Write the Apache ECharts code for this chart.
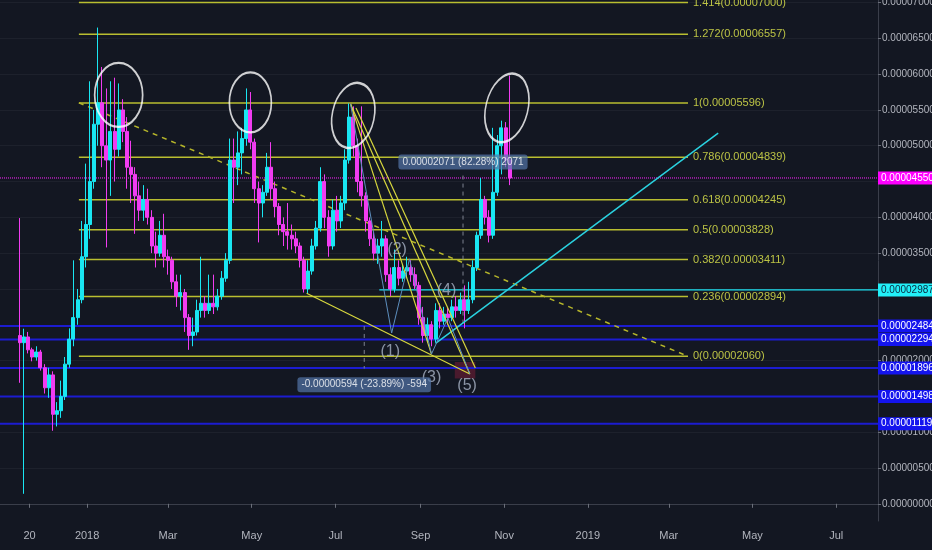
<!DOCTYPE html>
<html><head><meta charset="utf-8">
<script src="https://cdn.jsdelivr.net/npm/echarts@6/dist/echarts.min.js"></script>
<style>html,body{margin:0;padding:0;background:#131722;}#c{width:932px;height:550px;}</style>
</head><body><div id="c"></div><script>
// ---------- DATA (prices in satoshi, 1e-8) ----------
const firstCandle = '2017-11-13';
const candleStepDays = 3;
const openP  = [2350,2250,2330,2150,2050,2120,1900,1620,1800,1250,1300,1500,1950,2300,2600,2850,3450,3900,4500,5300,5600,5000,4800,5200,4950,5500,5200,4700,4600,4300,4100,4250,4000,3600,3500,3750,3450,3400,3100,2900,2950,2600,2350,2400,2700,2800,2700,2800,2750,2900,3150,3400,4800,4700,4900,5100,5500,5050,4400,4200,4350,4700,4400,4150,3900,3800,3750,3700,3600,3400,3000,3250,3600,3850,4500,4000,3600,4100,3950,4200,4800,5400,5000,4500,4300,3950,3700,3500,3600,3700,3200,3000,3300,3150,3250,3300,3200,3050,2600,2350,2500,2300,2700,2550,2650,2600,2750,2700,2850,2700,2850,3300,3750,4250,4000,3750,4350,5000,5250,4800];
const closeP = [2250,2330,2150,2050,2120,1900,1620,1800,1250,1300,1500,1950,2300,2600,2850,3450,3900,4500,5300,5600,5000,4800,5200,4950,5500,5200,4700,4600,4300,4100,4250,4000,3600,3500,3750,3450,3400,3100,2900,2950,2600,2350,2400,2700,2800,2700,2800,2750,2900,3150,3400,4800,4700,4900,5100,5500,5050,4400,4200,4350,4700,4400,4150,3900,3800,3750,3700,3600,3400,3000,3250,3600,3850,4500,4000,3600,4100,3950,4200,4800,5400,5000,4500,4300,3950,3700,3500,3600,3700,3200,3000,3300,3150,3250,3300,3200,3050,2600,2350,2500,2300,2700,2550,2650,2600,2750,2700,2850,2700,2850,3300,3750,4250,4000,3750,4350,5000,5250,4800,4550];
const highP  = [3990,2445,2400,2180,2200,2150,1950,1900,1850,1420,1720,2050,2450,3400,3000,3950,4750,5900,5500,6650,6100,5800,5900,5950,5870,5650,5400,5070,4700,4500,4450,4400,4100,3800,3950,4050,3550,3450,3200,3200,3000,2650,2600,2850,3450,2900,3200,3200,3000,3250,3500,5100,5100,5200,5250,5800,5750,5100,4500,4450,4900,5050,4500,4200,4000,4200,3900,3800,3650,3450,3400,3700,3950,4700,4600,4100,4250,4300,4300,4950,5590,5550,5100,5550,4350,4000,3800,3700,3950,3750,3300,3550,3400,3350,3450,3400,3300,3100,2750,2600,2550,2800,2800,2750,2750,2850,2900,2950,3050,3100,3400,3800,4550,4300,4100,5250,5150,5350,5330,5980];
const lowP   = [1690,140,2100,1990,2000,1860,1540,1480,1020,1080,1200,1450,1900,2200,2500,2800,3300,3700,4400,5000,4700,3580,4300,4500,4850,5050,4400,4200,3770,3950,3950,3900,3500,3300,3450,3300,3200,3000,2750,2700,2400,2150,2200,2350,2600,2600,2650,2650,2700,2850,3100,3350,4200,4450,4600,5000,4950,4200,3650,4000,4300,4250,4000,3750,3600,3550,3550,3500,3300,2950,2930,3200,3550,3800,3850,3450,3550,3800,3850,4100,4750,4850,4350,4150,3800,3600,3400,3350,3450,3100,2900,2950,3050,3100,3150,3100,3000,2500,2250,2250,2200,2250,2450,2500,2500,2550,2600,2650,2450,2650,2800,3250,3700,3900,3650,3700,4300,4600,4700,4450];

const xTickDates  = ['2017-11-20','2018-01-01','2018-03-01','2018-05-01','2018-07-01','2018-09-01','2018-11-01','2019-01-01','2019-03-01','2019-05-01','2019-07-01'];
const xTickLabels = ['20','2018','Mar','May','Jul','Sep','Nov','2019','Mar','May','Jul'];
const yTicks = [0,500,1000,1500,2000,2500,3000,3500,4000,4500,5000,5500,6000,6500,7000];

const fibLevels = ['1.414','1.272','1','0.786','0.618','0.5','0.382','0.236','0'];
const fibPrices = [7000,6557,5596,4839,4245,3828,3411,2894,2060];
const fibRange  = ['2017-12-26','2019-03-15'];

const blueLevels = [2484,2294,1896,1498,1119];
const cyanLevel = 2987, cyanLevelStart = '2018-08-02';
const lastPrice = 4550;

const dashedTrend = [['2017-12-26',5600],['2019-03-15',2060]];
const cyanTrend   = [['2018-09-12',2241],['2019-04-06',5176]];
const wedgeLines  = [
  [['2018-06-10',2939],['2018-10-07',1812]],
  [['2018-07-12',5584],['2018-09-09',2091]],
  [['2018-07-12',5584],['2018-10-07',1812]],
  [['2018-07-16',5527],['2018-10-11',1896]]
];
const wavePath = [['2018-07-12',5584],['2018-08-11',2385],['2018-08-24',3420],['2018-09-09',2091],['2018-09-21',2594],['2018-10-07',1812]];
const waveNames = ['(1)','(2)','(3)','(4)','(5)'];
const waveLabelPos = [['2018-08-10',2120],['2018-08-15',3543],['2018-09-09',1756],['2018-09-20',2972],['2018-10-05',1644]];

const circleCenters = [['2018-01-24',5709],['2018-04-30',5605],['2018-07-14',5423],['2018-11-03',5528]];

const measureUp   = {date:'2018-10-02', from:2517, to:4588, labelAt:4774, change:2071, pct:'82.28'};
const measureDown = {date:'2018-07-22', from:2484, to:1890, labelAt:1663, change:-594, pct:'-23.89'};
const redBox = [['2018-09-26',1980],['2018-10-11',1750]];

// ---------- helpers ----------
const DAY = 86400000;
const T = s => new Date(s + 'T00:00:00Z').getTime();
const fmt = v => (v < 0 ? '-' : '') + '0.' + String(Math.abs(v)).padStart(8,'0');
const P = p => [T(p[0]), p[1]];
const FONT = "'Liberation Sans',Arial,sans-serif";
const X_MIN = T('2017-10-29') + 12*3600000, X_MAX = T('2019-07-31') + 12*3600000;

const t0 = T(firstCandle);
const candles = openP.map((o,i) => [t0 + i*candleStepDays*DAY, o, closeP[i], lowP[i], highP[i]]);

const UP = '#19e6f2', DOWN = '#f13cf1';
const FIB = '#b9be30';
const axisBox = {position:'end', distance:0, padding:[2,2,1,3], fontSize:10, fontFamily:FONT};

const series = [];
series.push({
  type:'candlestick', data: candles, barWidth: 3.5, z: 3,
  itemStyle:{color:UP, color0:DOWN, borderColor:UP, borderColor0:DOWN, borderWidth:1}
});
fibPrices.forEach((p,i) => series.push({
  type:'line', silent:true, z:2, symbol:'none', clip:false,
  data:[[T(fibRange[0]), p],[T(fibRange[1]), p]],
  lineStyle:{color:FIB, width:1.5},
  endLabel:{show:true, distance:5, formatter: fibLevels[i]+'('+fmt(p)+')', color:'#bcc345', fontSize:11, fontFamily:FONT}
}));
blueLevels.forEach(p => series.push({
  type:'line', silent:true, z:2, symbol:'none', clip:false,
  data:[[X_MIN, p],[X_MAX, p]],
  lineStyle:{color:'#1c1cd0', width:2},
  endLabel:Object.assign({show:true, formatter: fmt(p), color:'#ffffff', backgroundColor:'#1414ee'}, axisBox)
}));
series.push({
  type:'line', silent:true, z:2, symbol:'none', clip:false,
  data:[[T(cyanLevelStart), cyanLevel],[X_MAX, cyanLevel]],
  lineStyle:{color:'#1fe0f0', width:1.3},
  endLabel:Object.assign({show:true, formatter: fmt(cyanLevel), color:'#0b2a40', backgroundColor:'#22f0f8'}, axisBox)
});
series.push({
  type:'line', silent:true, z:2, symbol:'none', clip:false,
  data:[[X_MIN, lastPrice],[X_MAX, lastPrice]],
  lineStyle:{color:'#ff22ff', width:1, type:'dotted'},
  endLabel:Object.assign({show:true, formatter: fmt(lastPrice), color:'#ffffff', backgroundColor:'#ff00ff'}, axisBox)
});
[measureUp, measureDown].forEach(m => series.push({
  type:'line', silent:true, z:2, symbol:'none',
  data:[[T(m.date), m.from],[T(m.date), m.to]],
  lineStyle:{color:'#7d8290', width:1, type:[4,4]}
}));
series.push({
  type:'line', data:[], silent:true, z:2,
  markArea:{silent:true, itemStyle:{color:'rgba(120,30,55,0.55)'},
    data:[[{coord:P(redBox[0])},{coord:P(redBox[1])}]]}
});
series.push({
  type:'line', data: dashedTrend.map(P), symbol:'none', silent:true, z:2,
  lineStyle:{color:'#b5b52a', width:1.5, type:[5,5]}
});
series.push({
  type:'line', data: cyanTrend.map(P), symbol:'none', silent:true, z:4,
  lineStyle:{color:'#2ad2e0', width:1.5}
});
wedgeLines.forEach(seg => series.push({
  type:'line', data: seg.map(P), symbol:'none', silent:true, z:4,
  lineStyle:{color:'#d8d83e', width:1.2}
}));
series.push({
  type:'line', data: wavePath.map(P), symbol:'none', silent:true, z:4,
  lineStyle:{color:'#5d8fbf', width:1}
});
series.push({
  type:'scatter', silent:true, z:6, symbolSize:0,
  data: waveLabelPos.map((p,i) => ({value:P(p), name: waveNames[i]})),
  label:{show:true, position:'inside', formatter: d => d.name, color:'#a9b3c6', fontSize:16, fontFamily:FONT}
});
const circleSizes = [[48,64],[42,60],[42,66],[42,70]];
const circleRot = [0,0,-12,-14];
series.push({
  type:'scatter', silent:true, z:7, symbol:'circle',
  data: circleCenters.map((p,i) => ({value:P(p), symbolSize:circleSizes[i], symbolRotate:circleRot[i]})),
  itemStyle:{color:'rgba(0,0,0,0)', borderColor:'#ffffff', borderWidth:2}
});
series.push({
  type:'scatter', silent:true, z:8, symbolSize:0,
  data:[
    {value:[T(measureUp.date), measureUp.labelAt], name: fmt(measureUp.change)+' ('+measureUp.pct+'%) '+measureUp.change},
    {value:[T(measureDown.date), measureDown.labelAt], name: fmt(measureDown.change)+' ('+measureDown.pct+'%) '+measureDown.change}
  ],
  label:{show:true, position:'inside', formatter:d=>d.name, color:'#ffffff', backgroundColor:'rgba(84,118,170,0.88)', borderRadius:3, padding:[3,4,2,4], fontSize:10, fontFamily:FONT}
});

const chart = echarts.init(document.getElementById('c'), null, {renderer:'canvas'});
chart.setOption({
  backgroundColor:'#131722',
  animation:false,
  grid:{left:0, right:54, top:0, bottom:29, containLabel:false, outerBoundsMode:'none'},
  xAxis:{
    type:'value', min:X_MIN, max:X_MAX, scale:true,
    axisLine:{show:true, lineStyle:{color:'#3a3e4a', width:1}},
    axisTick:{show:true, length:4, lineStyle:{color:'#6b6f7a'}, customValues: xTickDates.map(T)},
    axisLabel:{color:'#b2b5be', fontSize:11, fontFamily:FONT, margin:9, customValues: xTickDates.map(T),
      formatter: v => { const i = xTickDates.map(T).indexOf(v); return i >= 0 ? xTickLabels[i] : ''; }},
    splitLine:{show:false}
  },
  yAxis:{
    type:'value', position:'right', min:-240, max:7035, scale:true,
    axisLine:{show:true, lineStyle:{color:'#3a3e4a', width:1}},
    axisTick:{show:true, length:3, lineStyle:{color:'#6b6f7a'}, customValues: yTicks},
    axisLabel:{color:'#b2b5be', fontSize:10, fontFamily:FONT, margin:4, customValues: yTicks, formatter: v => fmt(v)},
    splitLine:{show:true, lineStyle:{color:'#1d212c', width:1}}
  },
  series
});
</script></body></html>
